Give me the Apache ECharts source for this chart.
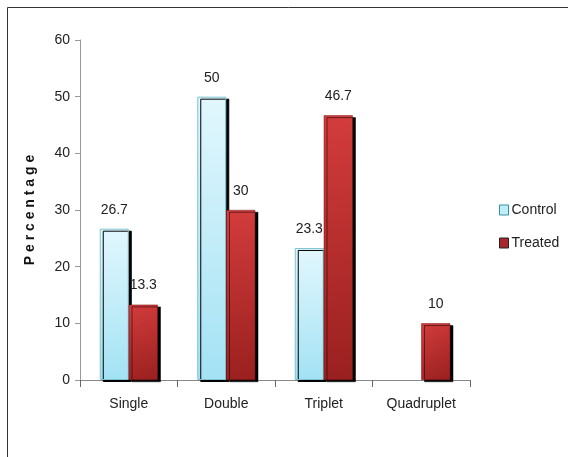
<!DOCTYPE html>
<html>
<head>
<meta charset="utf-8">
<script src="https://cdn.jsdelivr.net/npm/echarts@6/dist/echarts.min.js"></script>
<style>html,body{margin:0;padding:0;background:#fff;}#c{width:568px;height:457px;}</style>
</head>
<body>
<div id="c"></div>
<script>
var categories = ['Single', 'Double', 'Triplet', 'Quadruplet'];
var controlValues = [26.7, 50, 23.3, null];
var treatedValues = [13.3, 30, 46.7, 10];
var yTicks = [0, 10, 20, 30, 40, 50, 60];

var font = '"Liberation Sans Narrow", "Liberation Sans", Arial, sans-serif';
var chart = echarts.init(document.getElementById('c'));
chart.setOption({
  animation: false,
  backgroundColor: '#fff',
  graphic: [{
    type: 'polyline', z: 100,
    shape: { points: [[7.5, 460], [7.5, 7.5], [570, 7.5]] },
    style: { stroke: '#333', lineWidth: 1, fill: null }
  }],
  grid: { left: 80, right: 98, top: 40, bottom: 77, containLabel: false },
  legend: {
    orient: 'vertical', left: 494, top: 198, itemGap: 19,
    itemWidth: 9, itemHeight: 10, icon: 'rect',
    textStyle: { fontFamily: font, fontSize: 14, color: '#222', padding: [0, 0, 0, -2] },
    data: [
      { name: 'Control', itemStyle: { color: '#bfeef9', borderColor: '#3a8fa0', borderWidth: 1 } },
      { name: 'Treated', itemStyle: { color: '#a8272b', borderColor: '#222', borderWidth: 1 } }
    ]
  },
  xAxis: {
    type: 'category', data: categories,
    axisLine: { lineStyle: { color: '#888' } },
    axisTick: { show: true, length: 7, lineStyle: { color: '#666' } },
    axisLabel: { fontFamily: font, fontSize: 14, color: '#222', margin: 17 }
  },
  yAxis: {
    type: 'value', min: 0, max: 60, interval: 10,
    name: 'P e r c e n t a g e', nameLocation: 'middle', nameGap: 43, nameRotate: 90,
    nameTextStyle: { fontFamily: '"Liberation Sans", Arial, sans-serif', fontWeight: 'bold', fontSize: 14, color: '#111' },
    axisLine: { show: true, lineStyle: { color: '#999' } },
    axisTick: { show: true, length: 5, lineStyle: { color: '#999' } },
    splitLine: { show: false },
    axisLabel: { fontFamily: font, fontSize: 14, color: '#222', margin: 10,
      formatter: function (v) { return yTicks.indexOf(v) >= 0 ? String(v) : ''; } }
  },
  series: [{
    name: 'Control', type: 'bar', data: controlValues, barWidth: 29, barGap: '0%',
    itemStyle: {
      color: new echarts.graphic.LinearGradient(0, 0, 0, 1, [
        { offset: 0, color: '#e2f7fd' }, { offset: 1, color: '#a3e2f4' }]),
      borderColor: '#7cc4d2', borderWidth: 1,
      shadowColor: '#000', shadowOffsetX: 3, shadowOffsetY: 2, shadowBlur: 0
    },
    label: { show: true, position: 'top', distance: 12, fontFamily: font, fontSize: 14, color: '#222' }
  }, {
    name: 'Treated', type: 'bar', data: treatedValues, barWidth: 29,
    itemStyle: {
      color: new echarts.graphic.LinearGradient(0, 0, 1, 1, [
        { offset: 0, color: '#d33c3c' }, { offset: 1, color: '#99201f' }]),
      borderColor: '#7a1515', borderWidth: 0.5,
      shadowColor: '#000', shadowOffsetX: 3, shadowOffsetY: 2, shadowBlur: 0
    },
    label: { show: true, position: 'top', distance: 12, fontFamily: font, fontSize: 14, color: '#222' }
  }]
});
</script>
</body>
</html>
